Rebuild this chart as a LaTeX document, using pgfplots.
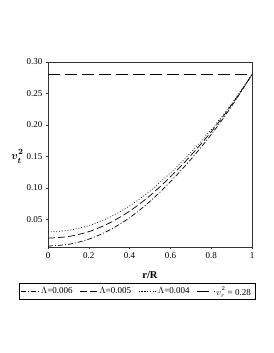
\documentclass[border=0pt]{standalone}
\usepackage{fontspec}
\setmainfont{Liberation Serif}
\usepackage{bm}
\usepackage{pgfplots}
\pgfplotsset{compat=1.18}
\begin{document}
\begin{tikzpicture}[x=1pt,y=1pt]
\path[use as bounding box] (0,0) rectangle (273,353);
\begin{axis}[
  at={(48pt,106pt)}, anchor=south west,
  scale only axis, width=204pt, height=185pt,
  xmin=0, xmax=1, ymin=0.006, ymax=0.30,
  xtick={0,0.2,0.4,0.6,0.8,1},
  xticklabels={0,0.2,0.4,0.6,0.8,1},
  ytick={0.05,0.10,0.15,0.20,0.25,0.30},
  yticklabels={0.05,0.10,0.15,0.20,0.25,0.30},
  minor x tick num=1,
  tick align=outside, tickpos=left,
  major tick length=2pt, minor tick length=1.5pt,
  axis line style={line width=0.6pt, black!80},
  tick style={black!80, line width=0.4pt},
  ticklabel style={font=\fontsize{9}{10}\selectfont},
  /pgf/number format/assume math mode=true,
  xlabel={\textbf{r/R}},
  xlabel style={at={(axis description cs:0.5,-0.15)}, anchor=center, font=\fontsize{10.5}{12}\selectfont},
  ylabel={$\bm{v}_{\lower1.5pt\hbox{$\scriptstyle\bm{t}$}}^{\raise1.5pt\hbox{$\scriptstyle\bm{2}$}}$},
  ylabel style={at={(axis description cs:-0.15,0.49)}, rotate=-90, anchor=center, font=\fontsize{11}{13}\selectfont},
  legend columns=4,
  legend style={at={(0.436,-0.195)}, anchor=north, draw=black, line width=0.5pt,
    font=\fontsize{9}{10}\selectfont, inner xsep=2pt, inner ysep=1pt,
    /tikz/every even column/.append style={column sep=5pt}},
  legend cell align=left,
]
\addplot[black, line width=0.7pt, smooth, dash pattern=on 5pt off 2pt on 1pt off 2pt] coordinates {
(0,0.0075) (0.1,0.0102) (0.2,0.0184) (0.3,0.0326) (0.4,0.0525) (0.5,0.0784)
(0.6,0.1097) (0.7,0.1451) (0.8,0.1846) (0.9,0.2296) (1.0,0.28)};
\addlegendentry{$\Lambda$=0.006}
\addplot[black, line width=0.7pt, smooth, dash pattern=on 7pt off 3pt] coordinates {
(0,0.020) (0.1,0.0226) (0.2,0.0304) (0.3,0.0439) (0.4,0.0629) (0.5,0.0876)
(0.6,0.1175) (0.7,0.1513) (0.8,0.189) (0.9,0.2319) (1.0,0.28)};
\addlegendentry{$\Lambda$=0.005}
\addplot[black, line width=0.7pt, smooth, dash pattern=on 0.8pt off 2pt] coordinates {
(0,0.030) (0.1,0.0325) (0.2,0.040) (0.3,0.053) (0.4,0.0713) (0.5,0.095)
(0.6,0.1238) (0.7,0.1563) (0.8,0.1925) (0.9,0.2338) (1.0,0.28)};
\addlegendentry{$\Lambda$=0.004}
\addplot[black, line width=0.7pt, dash pattern=on 12pt off 5pt] coordinates {
(0,0.28) (1,0.28)};
\addlegendentry{$v_{\lower1pt\hbox{$\scriptstyle r$}}^{\raise1pt\hbox{$\scriptstyle 2$}}$ = 0.28}
\end{axis}
\end{tikzpicture}
\end{document}
